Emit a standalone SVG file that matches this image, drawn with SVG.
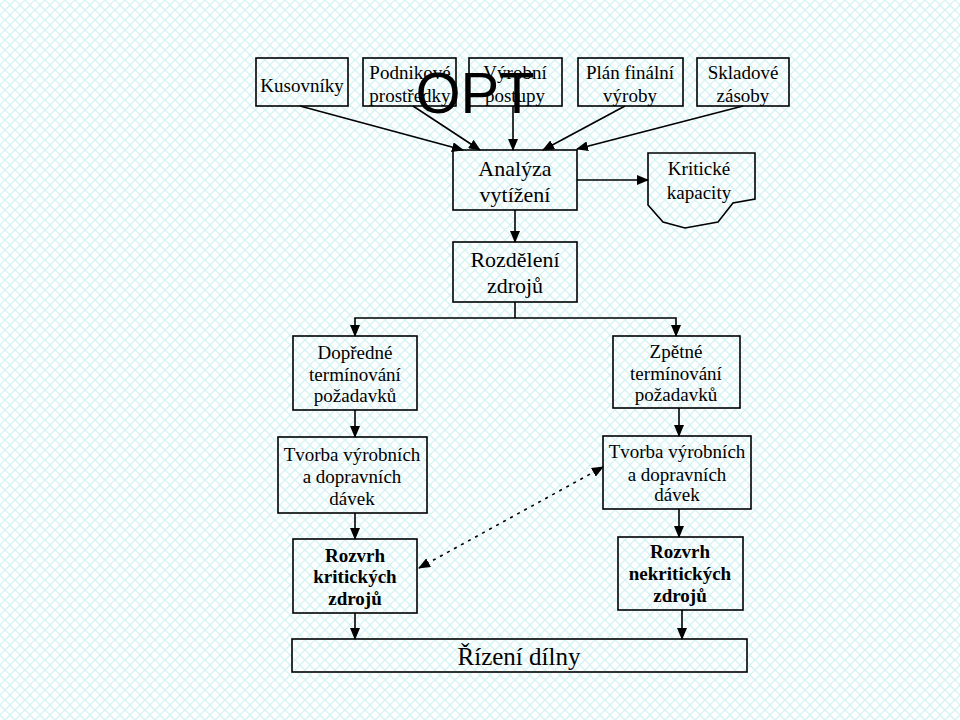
<svg xmlns="http://www.w3.org/2000/svg" width="960" height="720" viewBox="0 0 960 720">
<defs>
<pattern id="bg" width="10" height="10" patternUnits="userSpaceOnUse">
<rect width="10" height="10" fill="#ffffff"/>
<path d="M0 5 Q2.5 2 5 0 M5 0 Q7.5 2 10 5 M0 5 Q2.5 8 5 10 M5 10 Q7.5 8 10 5" fill="none" stroke="#d3f2f3" stroke-width="1.2"/>
</pattern>
<marker id="ah" markerWidth="12" markerHeight="10" refX="11" refY="5" orient="auto" markerUnits="userSpaceOnUse">
<path d="M0 0 L12 5 L0 10 Z" fill="#000"/>
</marker>
<marker id="ahs" markerWidth="12" markerHeight="10" refX="11" refY="5" orient="auto-start-reverse" markerUnits="userSpaceOnUse">
<path d="M0 0 L12 5 L0 10 Z" fill="#000"/>
</marker>
<style>
.b{fill:none;stroke:#000;stroke-width:1.6}
.t{font-family:"Liberation Serif","Times New Roman",serif;font-size:19px;fill:#000;text-anchor:middle}
.tl{font-size:22px}
.bd{font-weight:bold;font-size:19px}
.c{fill:none;stroke:#000;stroke-width:1.6}
</style>
</defs>
<rect width="960" height="720" fill="url(#bg)"/>

<g id="connectors">
<line class="c" x1="300" y1="106" x2="463" y2="150" marker-end="url(#ah)"/>
<line class="c" x1="413" y1="106" x2="480" y2="150" marker-end="url(#ah)"/>
<line class="c" x1="513" y1="106" x2="513" y2="150" marker-end="url(#ah)"/>
<line class="c" x1="625" y1="106" x2="543" y2="150" marker-end="url(#ah)"/>
<line class="c" x1="743" y1="106" x2="577" y2="149" marker-end="url(#ah)"/>
<line class="c" x1="577" y1="180" x2="648" y2="180" marker-end="url(#ah)"/>
<line class="c" x1="515" y1="210" x2="515" y2="242" marker-end="url(#ah)"/>
<polyline class="c" points="515,302 515,318"/>
<polyline class="c" points="355,336 355,318 676,318 676,336" marker-start="url(#ahs)" marker-end="url(#ah)"/>
<line class="c" x1="355" y1="410" x2="355" y2="437" marker-end="url(#ah)"/>
<line class="c" x1="679" y1="408" x2="679" y2="436" marker-end="url(#ah)"/>
<line class="c" x1="355" y1="513" x2="355" y2="539" marker-end="url(#ah)"/>
<line class="c" x1="679" y1="509" x2="679" y2="537" marker-end="url(#ah)"/>
<line class="c" x1="355" y1="613" x2="355" y2="639" marker-end="url(#ah)"/>
<line class="c" x1="682" y1="610" x2="682" y2="639" marker-end="url(#ah)"/>
<line class="c" x1="419" y1="568" x2="603" y2="467" stroke-dasharray="3,5" marker-start="url(#ahs)" marker-end="url(#ah)"/>
</g>

<g id="n-kusovniky"><rect class="b" x="256" y="58" width="92" height="48"/><text class="t" x="302" y="92">Kusovníky</text></g>
<g id="n-podnikove"><rect class="b" x="363" y="58" width="93" height="48"/><text class="t" x="410" y="79">Podnikové</text><text class="t" x="410" y="102">prostředky</text></g>
<g id="n-vyrobni"><rect class="b" x="469" y="58" width="93" height="48"/><text class="t" x="515" y="79">Výrobní</text><text class="t" x="515" y="102">postupy</text></g>
<g id="n-plan"><rect class="b" x="578" y="58" width="105" height="48"/><text class="t" x="630" y="79">Plán finální</text><text class="t" x="630" y="102">výroby</text></g>
<g id="n-skladove"><rect class="b" x="697" y="58" width="92" height="48"/><text class="t" x="743" y="79">Skladové</text><text class="t" x="743" y="102">zásoby</text></g>
<g id="title"><text x="475" y="113" font-family="Liberation Sans, Arial, sans-serif" font-size="58" text-anchor="middle" fill="#000">OPT</text></g>

<g id="n-analyza"><rect class="b" x="453" y="150" width="124" height="60"/><text class="t tl" x="515" y="176">Analýza</text><text class="t tl" x="515" y="202">vytížení</text></g>
<g id="n-kriticke"><polygon class="b" points="648,153 755,153 755,199 733,203 718,222 685,228 663,222 648,205"/><text class="t" x="699" y="175">Kritické</text><text class="t" x="699" y="199">kapacity</text></g>
<g id="n-rozdeleni"><rect class="b" x="453" y="242" width="124" height="60"/><text class="t tl" x="515" y="267">Rozdělení</text><text class="t tl" x="515" y="293">zdrojů</text></g>

<g id="n-dopredne"><rect class="b" x="293" y="336" width="124" height="74"/><text class="t" x="355" y="359">Dopředné</text><text class="t" x="355" y="381">termínování</text><text class="t" x="355" y="402">požadavků</text></g>
<g id="n-zpetne"><rect class="b" x="613" y="336" width="127" height="72"/><text class="t" x="676" y="358">Zpětné</text><text class="t" x="676" y="380">termínování</text><text class="t" x="676" y="401">požadavků</text></g>

<g id="n-tvorba-l"><rect class="b" x="278" y="437" width="149" height="76"/><text class="t" x="352" y="461">Tvorba výrobních</text><text class="t" x="352" y="483">a dopravních</text><text class="t" x="352" y="505">dávek</text></g>
<g id="n-tvorba-r"><rect class="b" x="603" y="436" width="148" height="73"/><text class="t" x="677" y="458">Tvorba výrobních</text><text class="t" x="677" y="481">a dopravních</text><text class="t" x="677" y="501">dávek</text></g>

<g id="n-rozvrh-k"><rect class="b" x="293" y="539" width="124" height="74"/><text class="t bd" x="355" y="562">Rozvrh</text><text class="t bd" x="355" y="583">kritických</text><text class="t bd" x="355" y="605">zdrojů</text></g>
<g id="n-rozvrh-n"><rect class="b" x="618" y="537" width="125" height="73"/><text class="t bd" x="680" y="558">Rozvrh</text><text class="t bd" x="680" y="580">nekritických</text><text class="t bd" x="680" y="602">zdrojů</text></g>

<g id="n-rizeni"><rect class="b" x="292" y="639" width="455" height="33"/><text class="t" x="519" y="665" style="font-size:25px">Řízení dílny</text></g>
</svg>
